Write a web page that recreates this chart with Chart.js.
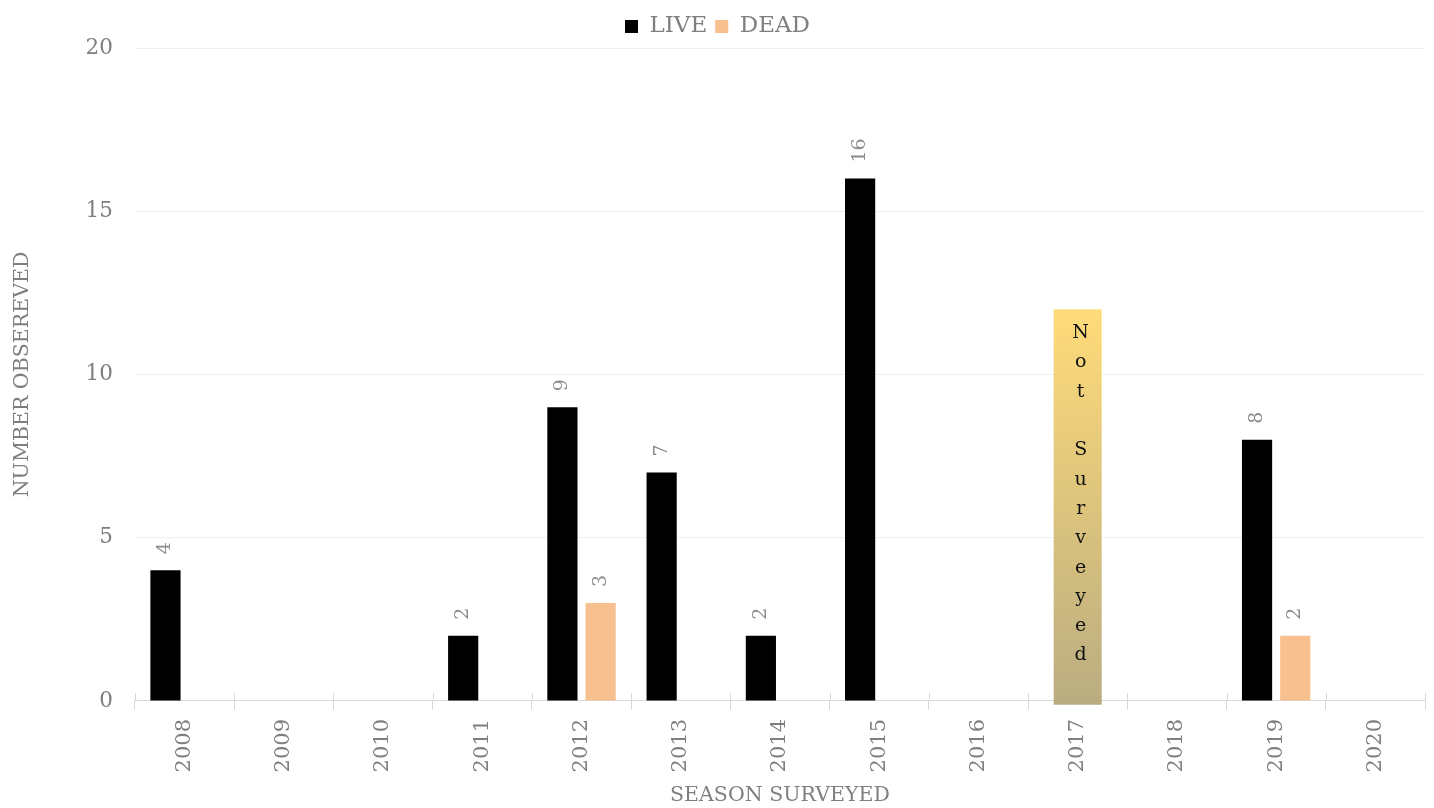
<!DOCTYPE html>
<html lang="en">
  <head>
    <meta charset="UTF-8" />
    <title>Season Surveyed</title>
    <script src="https://cdn.jsdelivr.net/npm/chart.js"></script>
    <style>
      * {
        margin: 0;
        padding: 0;
      }
      body {
        background: #fff;
      }
      .graph {
        width: 1434px;
        height: 808px;
      }
    </style>
  </head>
  <body>
    <div class="graph">
      <canvas id="chartbar"></canvas>
    </div>

    <script>
      /*====  DATA ============================ */
      var seasons = ['2008', '2009', '2010', '2011', '2012', '2013', '2014', '2015', '2016', '2017', '2018', '2019', '2020'];
      var live = [4, null, null, 2, 9, 7, 2, 16, null, null, null, 8, null];
      var dead = [null, null, null, null, 3, null, null, null, null, null, null, 2, null];
      // 2017 was not surveyed: marker bar spanning -0.12 .. 12
      var notSurveyed = [null, null, null, null, null, null, null, null, null, [-0.12, 12], null, null, null];
      var notSurveyedText = 'Not Surveyed';
      var yTicks = [0, 5, 10, 15, 20];

      var serif = '"DejaVu Serif", "Liberation Serif", serif';
      var grey = '#7f7f7f';

      /*====  PLUGINS ============================ */
      var valueLabels = {
        id: 'valueLabels',
        afterDatasetsDraw: function (chart) {
          var ctx = chart.ctx;
          ctx.save();
          ctx.font = '19px ' + serif;
          ctx.fillStyle = '#8c8c8c';
          ctx.textAlign = 'left';
          ctx.textBaseline = 'middle';
          [0, 1].forEach(function (di) {
            var meta = chart.getDatasetMeta(di);
            var vals = chart.data.datasets[di].data;
            meta.data.forEach(function (bar, i) {
              if (vals[i] == null) return;
              ctx.save();
              ctx.translate(bar.x, bar.y - 16);
              ctx.rotate(-Math.PI / 2);
              ctx.fillText(String(vals[i]), 0, 0);
              ctx.restore();
            });
          });

          // vertical "Not Surveyed" text
          var meta = chart.getDatasetMeta(2);
          meta.data.forEach(function (bar, i) {
            if (notSurveyed[i] == null) return;
            ctx.font = '19px ' + serif;
            ctx.fillStyle = '#111';
            ctx.textAlign = 'center';
            var chars = notSurveyedText.split('');
            chars.forEach(function (c, k) {
              ctx.fillText(c, bar.x + 3, bar.y + 24 + k * 29.3);
            });
          });
          ctx.restore();
        }
      };

      var crossTicks = {
        id: 'crossTicks',
        afterDraw: function (chart) {
          var x = chart.scales.x;
          var ctx = chart.ctx;
          var half = (x.getPixelForValue(1) - x.getPixelForValue(0)) / 2;
          ctx.save();
          ctx.strokeStyle = '#d9d9d9';
          ctx.lineWidth = 1;
          for (var i = 0; i <= seasons.length; i++) {
            var px = Math.round(x.getPixelForValue(i) - half) + 0.5;
            ctx.beginPath();
            ctx.moveTo(px, x.top - 8);
            ctx.lineTo(px, x.top);
            ctx.stroke();
          }
          ctx.restore();
        }
      };

      /*====  GRAFICO BARRAS ============================ */
      var ctx = document.getElementById('chartbar').getContext('2d');
      var myChart = new Chart(ctx, {
        type: 'bar',
        data: {
          labels: seasons,
          datasets: [
            {
              label: 'LIVE',
              data: live,
              backgroundColor: '#000000',
              borderWidth: 0,
              categoryPercentage: 0.77,
              barPercentage: 0.79
            },
            {
              label: 'DEAD',
              data: dead,
              backgroundColor: '#f8c08f',
              borderWidth: 0,
              categoryPercentage: 0.77,
              barPercentage: 0.79
            },
            {
              label: 'Not Surveyed',
              data: notSurveyed,
              grouped: false,
              clip: false,
              categoryPercentage: 1,
              barPercentage: 0.484,
              borderWidth: 0,
              backgroundColor: function (c) {
                var area = c.chart.chartArea;
                if (!area) return '#e8c870';
                var g = c.chart.ctx.createLinearGradient(0, c.chart.scales.y.getPixelForValue(12), 0, c.chart.scales.y.getPixelForValue(0));
                g.addColorStop(0, 'rgba(255, 216, 110, 0.92)');
                g.addColorStop(1, 'rgba(180, 166, 118, 0.92)');
                return g;
              }
            }
          ]
        },
        options: {
          responsive: true,
          maintainAspectRatio: false,
          animation: false,
          layout: {
            padding: { left: 10, right: 9, top: 7, bottom: 0 }
          },
          plugins: {
            legend: {
              position: 'top',
              labels: {
                font: { family: serif, size: 23 },
                color: grey,
                boxWidth: 13,
                boxHeight: 13,
                padding: 8,
                filter: function (item) {
                  return item.datasetIndex < 2;
                }
              }
            },
            tooltip: { enabled: false }
          },
          scales: {
            x: {
              grid: {
                display: true,
                drawOnChartArea: false,
                offset: true,
                color: '#d9d9d9',
                tickLength: 9
              },
              border: { color: '#d9d9d9' },
              ticks: {
                font: { family: serif, size: 21 },
                color: grey,
                minRotation: 90,
                maxRotation: 90,
                padding: 9
              },
              title: {
                display: true,
                text: 'SEASON SURVEYED',
                font: { family: serif, size: 20.5 },
                color: grey,
                padding: { top: 2, bottom: 0 }
              }
            },
            y: {
              min: 0,
              max: 20,
              afterBuildTicks: function (axis) {
                axis.ticks = yTicks.map(function (v) {
                  return { value: v };
                });
              },
              grid: {
                color: '#efefef',
                drawTicks: false
              },
              border: { display: false },
              ticks: {
                font: { family: serif, size: 21.5 },
                color: grey,
                padding: 22
              },
              title: {
                display: true,
                text: 'NUMBER OBSEREVED',
                font: { family: serif, size: 20.5 },
                color: grey,
                padding: { top: 0, bottom: 29 }
              }
            }
          }
        },
        plugins: [valueLabels, crossTicks]
      });
    </script>
  </body>
</html>
